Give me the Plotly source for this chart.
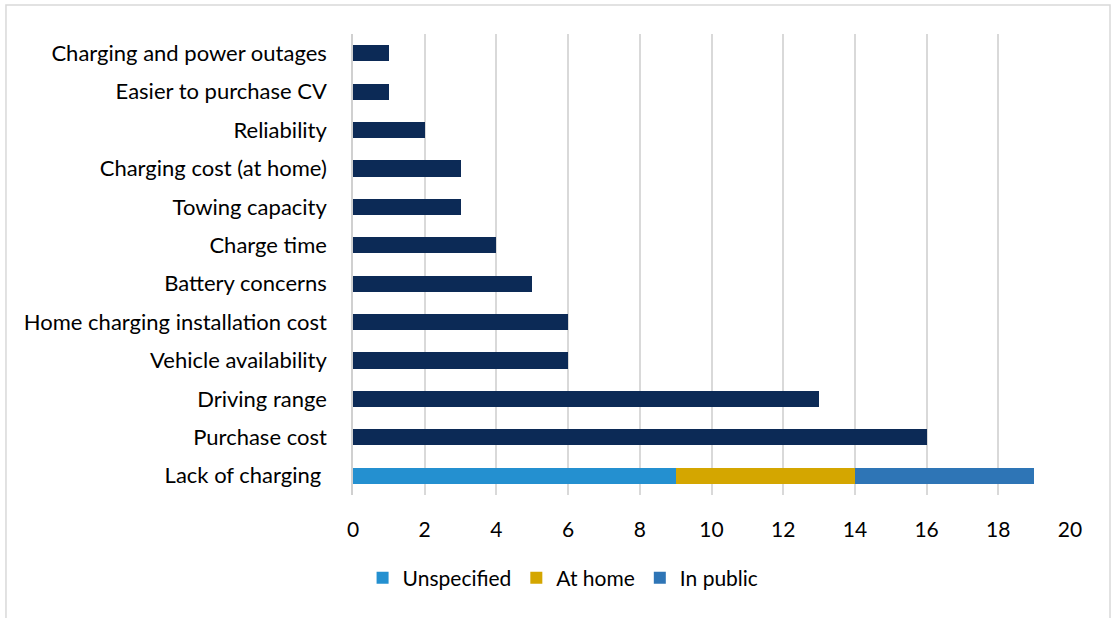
import plotly.graph_objects as go

# Reasons cited, listed bottom-to-top as drawn on the category axis
categories = [
    "Lack of charging ",
    "Purchase cost",
    "Driving range",
    "Vehicle availability",
    "Home charging installation cost",
    "Battery concerns",
    "Charge time",
    "Towing capacity",
    "Charging cost (at home)",
    "Reliability",
    "Easier to purchase CV",
    "Charging and power outages",
]
counts = [None, 16, 13, 6, 6, 5, 4, 3, 3, 2, 1, 1]

# Breakdown of the "Lack of charging" responses
charging_labels = ["Unspecified", "At home", "In public"]
charging_values = [9, 5, 5]
charging_colors = ["#2490d0", "#d4a600", "#2e75b6"]

x_ticks = [0, 2, 4, 6, 8, 10, 12, 14, 16, 18, 20]

font_family = "Lato, Carlito, Calibri, sans-serif"
bar_width = 0.42

fig = go.Figure()

fig.add_trace(go.Bar(
    y=categories, x=counts, orientation="h",
    marker=dict(color="#0c2a56", line=dict(width=0)),
    width=bar_width, showlegend=False,
))

for label, val, col in zip(charging_labels, charging_values, charging_colors):
    fig.add_trace(go.Bar(
        y=[categories[0]], x=[val], orientation="h", name=label,
        marker=dict(color=col, line=dict(width=0)),
        width=bar_width,
    ))

fig.update_layout(
    barmode="stack",
    width=1112, height=618,
    margin=dict(l=353, r=42, t=34, b=123),
    paper_bgcolor="white", plot_bgcolor="white",
    font=dict(family=font_family, size=21, color="#000000"),
    legend=dict(
        orientation="h", x=0.293, xanchor="center", y=-0.18, yanchor="middle",
        font=dict(size=21), traceorder="normal", itemwidth=30,
    ),
    xaxis=dict(
        range=[0, 20], tickvals=x_ticks, showgrid=True, gridcolor="#d9d9d9",
        gridwidth=1.5, zeroline=False, showline=False, ticks="",
        ticklabelstandoff=20, fixedrange=True, tickfont=dict(size=21),
    ),
    yaxis=dict(
        categoryorder="array", categoryarray=categories,
        showgrid=False, zeroline=False, showline=True, linecolor="#d0d0d0",
        linewidth=1.5, ticks="", ticklabelstandoff=20, tickfont=dict(size=22),
    ),
    shapes=[
        dict(type="rect", xref="paper", yref="paper",
             x0=-0.484, x1=1.0558, y0=-0.4, y1=1.0629,
             line=dict(color="#d9d9d9", width=1.5), fillcolor="rgba(0,0,0,0)",
             layer="below"),
    ],
)

fig.write_html("out.html")
